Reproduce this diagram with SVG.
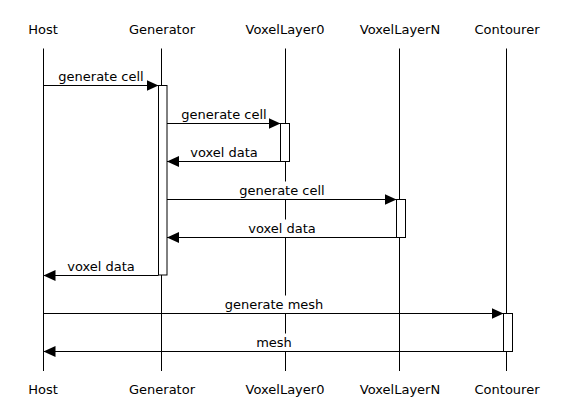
<svg xmlns="http://www.w3.org/2000/svg" width="565" height="411" viewBox="0 0 565 411">
<defs>
<style>
text{font-family:"DejaVu Sans","Liberation Sans",sans-serif;font-size:13px;fill:#000;text-anchor:middle}
.life{stroke:#000;stroke-width:1;fill:none}
.act{stroke:#000;stroke-width:1;fill:#fff}
.msg{stroke:#000;stroke-width:1;fill:none}
.bg{fill:#fff;stroke:none}
</style>
<marker id="ah" viewBox="0 0 12 11" refX="12" refY="5.5" markerWidth="12" markerHeight="11" markerUnits="userSpaceOnUse" orient="auto">
<path d="M0,0 L12,5.5 L0,11 Z" fill="#000"/>
</marker>
</defs>
<rect width="565" height="411" fill="#fff"/>
<g id="Host">
<text x="43" y="34">Host</text>
<line class="life" x1="43.5" y1="48.5" x2="43.5" y2="371"/>
<text x="43" y="394">Host</text>
</g>
<g id="Generator">
<text x="162" y="34">Generator</text>
<line class="life" x1="161.5" y1="48.5" x2="161.5" y2="371"/>
<rect class="act" x="158.5" y="85.5" width="8.5" height="189.5"/>
<text x="162" y="394">Generator</text>
</g>
<g id="VoxelLayer0">
<text x="285" y="34">VoxelLayer0</text>
<line class="life" x1="285.5" y1="48.5" x2="285.5" y2="371"/>
<rect class="act" x="280.5" y="123.5" width="9" height="38"/>
<text x="285" y="394">VoxelLayer0</text>
</g>
<g id="VoxelLayerN">
<text x="400" y="34">VoxelLayerN</text>
<line class="life" x1="399.5" y1="48.5" x2="399.5" y2="371"/>
<rect class="act" x="396.5" y="199.5" width="9" height="38"/>
<text x="400" y="394">VoxelLayerN</text>
</g>
<g id="Contourer">
<text x="507" y="34">Contourer</text>
<line class="life" x1="506.5" y1="48.5" x2="506.5" y2="371"/>
<rect class="act" x="503.5" y="313.5" width="9" height="38"/>
<text x="507" y="394">Contourer</text>
</g>
<g id="connectors">
<line class="msg" x1="43.5" y1="85.5" x2="158.5" y2="85.5" marker-end="url(#ah)"/>
<text x="101" y="81">generate cell</text>
<line class="msg" x1="167" y1="123.5" x2="280.5" y2="123.5" marker-end="url(#ah)"/>
<text x="224" y="119">generate cell</text>
<line class="msg" x1="280.5" y1="161.5" x2="167" y2="161.5" marker-end="url(#ah)"/>
<text x="224" y="157">voxel data</text>
<rect class="bg" x="238" y="181.5" width="88" height="17.5"/>
<line class="msg" x1="167" y1="199.5" x2="396.5" y2="199.5" marker-end="url(#ah)"/>
<text x="282" y="195">generate cell</text>
<rect class="bg" x="247" y="219.5" width="70" height="17.5"/>
<line class="msg" x1="396.5" y1="237.5" x2="167" y2="237.5" marker-end="url(#ah)"/>
<text x="282" y="233">voxel data</text>
<line class="msg" x1="158.5" y1="275.5" x2="43.5" y2="275.5" marker-end="url(#ah)"/>
<text x="101" y="271">voxel data</text>
<rect class="bg" x="224" y="295.5" width="100" height="17.5"/>
<line class="msg" x1="43.5" y1="313.5" x2="503.5" y2="313.5" marker-end="url(#ah)"/>
<text x="274" y="309">generate mesh</text>
<rect class="bg" x="255" y="333.5" width="38" height="17.5"/>
<line class="msg" x1="503.5" y1="351.5" x2="43.5" y2="351.5" marker-end="url(#ah)"/>
<text x="274" y="347">mesh</text>
</g>
</svg>
